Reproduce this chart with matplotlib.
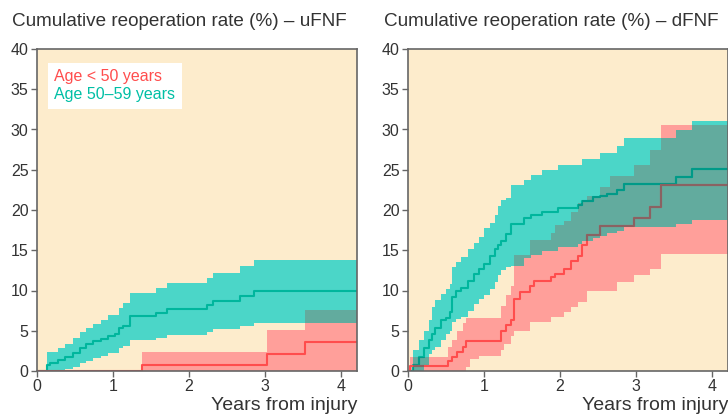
import numpy as np
import matplotlib
matplotlib.use("Agg")
import matplotlib.pyplot as plt
from matplotlib.lines import Line2D

# Datos (tiempo en anios, tasa en %)
# uFNF, edad 50-59
t_teal_u = [0, 0.13, 0.17, 0.28, 0.37, 0.47, 0.56, 0.65, 0.74, 0.84, 0.93, 1.03, 1.08, 1.13, 1.22, 1.57, 1.71, 2.23, 2.32, 2.67, 2.85]
est_teal_u = [0, 0.7, 1.0, 1.4, 1.8, 2.2, 2.8, 3.3, 3.7, 4.0, 4.3, 4.6, 5.3, 5.6, 6.8, 7.2, 7.7, 8.2, 8.7, 9.3, 10.0]
hi_teal_u = [0, 2.3, 2.3, 2.8, 3.3, 4.1, 4.9, 5.4, 5.8, 6.3, 6.9, 6.9, 7.8, 8.4, 9.7, 10.3, 10.9, 11.5, 12.2, 13.0, 13.8]
lo_teal_u = [0, 0, 0, 0, 0.2, 0.5, 1.0, 1.3, 1.6, 1.9, 2.2, 2.2, 2.8, 3.1, 3.8, 4.1, 4.5, 4.9, 5.2, 5.6, 6.0]

# uFNF, edad < 50
t_red_u = [0, 1.38, 3.02, 3.53]
est_red_u = [0, 0.8, 2.1, 3.6]
hi_red_u = [0, 2.3, 5.1, 7.6]
lo_red_u = [0, 0, 0, 0]

# dFNF, edad 50-59
t_teal_d = [0, 0.07, 0.14, 0.21, 0.28, 0.32, 0.36, 0.43, 0.50, 0.55, 0.58, 0.63, 0.70, 0.79, 0.87, 0.93, 1.00, 1.08,
            1.14, 1.19, 1.22, 1.29, 1.35, 1.53, 1.62, 1.76, 1.97, 2.23, 2.29, 2.43, 2.53, 2.62, 2.75, 2.84, 3.52, 3.73]
est_teal_d = [0, 0.7, 1.7, 2.8, 3.8, 4.6, 5.4, 6.3, 6.6, 7.3, 9.2, 10.0, 10.3, 11.2, 12.1, 12.7, 13.3, 14.3,
              15.2, 15.6, 16.2, 17.0, 18.3, 19.0, 19.4, 19.8, 20.2, 20.6, 21.1, 21.6, 21.8, 22.0, 22.5, 23.2, 24.1, 25.1]
hi_teal_d = [0, 2.6, 3.8, 5.0, 6.3, 7.9, 8.8, 9.6, 10.2, 10.8, 12.9, 13.5, 14.1, 15.1, 15.9, 16.7, 17.8, 18.4,
             19.4, 20.5, 21.3, 21.5, 23.1, 23.7, 24.3, 25.0, 25.6, 25.6, 26.3, 26.3, 27.1, 27.1, 27.9, 28.9, 30.0, 31.1]
lo_teal_d = [0, 0, 0, 0.7, 2.1, 2.6, 3.0, 3.8, 4.6, 5.0, 6.1, 6.4, 6.7, 7.5, 8.3, 9.0, 9.4, 10.2,
             11.0, 11.9, 12.5, 12.9, 13.1, 14.0, 14.4, 14.9, 15.4, 15.8, 16.2, 16.5, 16.8, 17.1, 17.4, 17.9, 18.3, 18.7]

# dFNF, edad < 50
t_red_d = [0, 0.02, 0.52, 0.58, 0.65, 0.72, 0.76, 0.82, 0.93, 1.22, 1.26, 1.29, 1.35, 1.39, 1.48, 1.61, 1.66, 1.88,
           1.94, 2.05, 2.14, 2.23, 2.29, 2.36, 2.53, 2.66, 2.75, 2.97, 3.19, 3.33]
est_red_d = [0, 0.6, 1.2, 1.8, 2.4, 3.0, 3.7, 3.7, 3.7, 5.0, 5.0, 5.7, 6.3, 9.0, 9.8, 10.6, 11.2, 11.7,
             12.1, 12.7, 13.7, 14.3, 15.6, 16.9, 18.0, 18.0, 18.0, 19.0, 20.4, 23.1]
hi_red_d = [0, 1.7, 3.0, 3.8, 5.0, 6.0, 6.6, 6.6, 6.6, 8.1, 8.1, 9.4, 10.5, 14.4, 14.4, 16.3, 16.3, 17.1,
            18.1, 18.6, 19.8, 20.9, 21.3, 21.7, 22.8, 24.2, 24.2, 25.6, 27.5, 30.6]
lo_red_d = [0, 0, 0, 0, 0, 0, 0.5, 1.5, 1.9, 2.6, 3.4, 3.4, 4.4, 5.0, 5.0, 6.1, 6.1, 6.7,
            6.7, 7.3, 7.9, 8.6, 8.6, 10.0, 10.0, 10.0, 11.0, 11.9, 12.7, 14.5]

titles = ["Cumulative reoperation rate (%) \u2013 uFNF", "Cumulative reoperation rate (%) \u2013 dFNF"]
legend_labels = ["Age < 50 years", "Age 50\u201359 years"]

# Colores
BG = "#fdeccc"
TEAL_BAND = "#4bd6c8"
TEAL_LINE = "#00b69d"
TEAL_DARK = "#009a88"
RED_BAND = "#ff9f9a"
RED_LINE = "#ff4d4d"
RED_DARK = "#8a6262"
OVERLAP = "#62ab9e"
SPINE = "#666666"
TEXT = "#333333"
XMAX = 4.21

plt.rcParams['font.family'] = ['Liberation Sans', 'DejaVu Sans']


def extend(times, vals):
    return np.append(times, XMAX), np.append(vals, vals[-1])


def step_at(x, times, vals):
    idx = np.searchsorted(times, x, side='right') - 1
    return np.asarray(vals)[idx]


def draw_panel(ax, teal, red):
    ax.set_facecolor(BG)
    tt, et, ht, lt = teal
    tr, er, hr, lr = red
    ax.fill_between(*extend(tt, ht), extend(tt, lt)[1], step='post', color=TEAL_BAND, lw=0)
    ax.fill_between(*extend(tr, hr), extend(tr, lr)[1], step='post', color=RED_BAND, lw=0)

    # zona de solapamiento entre las dos bandas
    u = np.union1d(np.append(tt, XMAX), np.append(tr, XMAX))
    ov_lo = np.maximum(step_at(u, tt, lt), step_at(u, tr, lr))
    ov_hi = np.minimum(step_at(u, tt, ht), step_at(u, tr, hr))
    ov_hi = np.maximum(ov_hi, ov_lo)
    ov = ax.fill_between(u, ov_lo, ov_hi, step='post', color=OVERLAP, lw=0)
    clip = ov.get_paths()[0]

    for t, e, c, cd in [(tt, et, TEAL_LINE, TEAL_DARK), (tr, er, RED_LINE, RED_DARK)]:
        x, y = extend(t, e)
        ax.step(x, y, where='post', color=c, lw=1.5)
        ln = ax.step(x, y, where='post', color=cd, lw=1.5)[0]
        ln.set_clip_path(clip, ax.transData)

    ax.set_xlim(0, XMAX)
    ax.set_ylim(0, 40)
    ax.set_xticks(range(0, 5))
    ax.set_yticks(range(0, 41, 5))
    for s in ax.spines.values():
        s.set_color(SPINE)
        s.set_linewidth(1.2)
    ax.tick_params(direction='out', length=4, width=1, color=SPINE, labelcolor=TEXT, labelsize=11.5, pad=2)
    ax.text(1.0, -0.108, "Years from injury", transform=ax.transAxes, ha='right', va='center',
            fontsize=14, color=TEXT)


fig = plt.figure(figsize=(7.28, 4.16), dpi=100)
ax1 = fig.add_axes([37 / 728, 1 - 371 / 416, 320 / 728, 322 / 416])
ax2 = fig.add_axes([408 / 728, 1 - 371 / 416, 320 / 728, 322 / 416])

draw_panel(ax1, (t_teal_u, est_teal_u, hi_teal_u, lo_teal_u), (t_red_u, est_red_u, hi_red_u, lo_red_u))
draw_panel(ax2, (t_teal_d, est_teal_d, hi_teal_d, lo_teal_d), (t_red_d, est_red_d, hi_red_d, lo_red_d))

fig.text(12 / 728, 1 - 22 / 416, titles[0], ha='left', va='center', fontsize=13.6, color=TEXT)
fig.text(384 / 728, 1 - 22 / 416, titles[1], ha='left', va='center', fontsize=13.6, color=TEXT)

handles = [Line2D([], [], linestyle='none') for _ in legend_labels]
leg = ax1.legend(handles, legend_labels, loc='upper left', bbox_to_anchor=(0.034, 0.957),
                 borderaxespad=0, handlelength=0, handletextpad=0, frameon=True, fancybox=False,
                 fontsize=11.5, borderpad=0.4, labelspacing=0.2)
leg.get_frame().set_facecolor('white')
leg.get_frame().set_edgecolor('none')
leg.get_frame().set_alpha(1)
for txt, c in zip(leg.get_texts(), [RED_LINE, "#00bfa5"]):
    txt.set_color(c)

fig.savefig("out.png", dpi=100)
